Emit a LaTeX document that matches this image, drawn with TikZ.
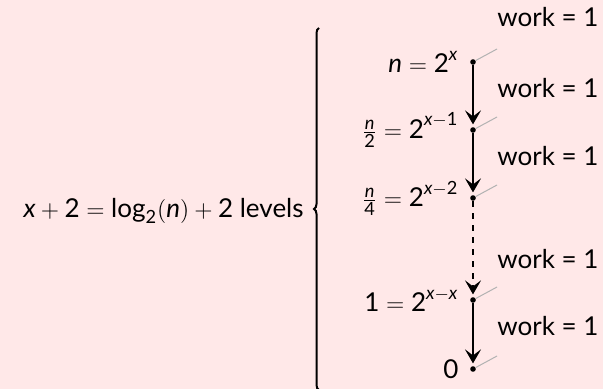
\documentclass[tikz,border=0pt]{standalone}
\usepackage{amsmath}
\usepackage{fontspec}
\setmainfont{Lato}
\usepackage{tikz}
\usetikzlibrary{positioning,arrows.meta,decorations.pathreplacing}
\definecolor{bg}{RGB}{255,232,232}
\newcommand{\vx}{\text{\itshape x}}
\newcommand{\vn}{\text{\itshape n}}
\newcommand{\tn}[1]{\text{#1}}

\begin{document}
\begin{tikzpicture}[x=0.5pt, y=-0.5pt, every node/.style={font=\fontsize{13}{15}\selectfont, inner sep=0pt},
  d/.style={circle, fill=black, minimum size=2.8pt},
  t/.style={anchor=east},
  w/.style={anchor=west},
  a/.style={-{Stealth[length=7pt, width=8pt, inset=3pt]}, line width=1pt, shorten >=1.2pt},
  g/.style={gray!60, line width=0.5pt}]
\fill[bg] (0,0) rectangle (603,389);
\useasboundingbox (0,0) rectangle (603,389);
% levels
\node[d] (l0) at (473,62) {};
\node[d] (l1) at (473,130) {};
\node[d] (l2) at (473,198) {};
\node[d] (l3) at (473,300) {};
\node[d] (l4) at (473,369) {};
\node[t, left=5.5pt of l0] (t0) {$\vn = \tn{2}^{\vx}$};
\node[t, left=5.5pt of l1] (t1) {$\frac{\vn}{\tn{2}} = \tn{2}^{\vx-\tn{1}}$};
\node[t, left=5.5pt of l2] (t2) {$\frac{\vn}{\tn{4}} = \tn{2}^{\vx-\tn{2}}$};
\node[t, left=5.5pt of l3] (t3) {$\tn{1} = \tn{2}^{\vx-\vx}$};
\node[t, left=5.5pt of l4] (t4) {0};
% work per level
\node[w] (w0) at (497,17) {work = 1};
\node[w] (w1) at (497,88) {work = 1};
\node[w] (w2) at (497,156) {work = 1};
\node[w] (w3) at (497,259) {work = 1};
\node[w] (w4) at (497,326) {work = 1};
\foreach \i in {0,...,4}{
  \coordinate (g\i) at ([shift={(12pt,6.5pt)}]l\i);
  \draw[g] (l\i) -- (g\i);
}
\draw[a] (l0) -- (l1); \draw[a] (l1) -- (l2);
\draw[a, dashed] (l2) -- (l3); \draw[a] (l3) -- (l4);
% brace
\coordinate (bb) at (319,390);
\coordinate (bt) at (319,28);
\draw[line width=1pt, decorate, decoration={brace, amplitude=2.5pt}] (bb) -- (bt);
\node[t] (lev) at (304,211) {$\vx + \tn{2} = \tn{log}_{\tn{2}}(\vn) + \tn{2}$ levels};
\end{tikzpicture}
\end{document}
